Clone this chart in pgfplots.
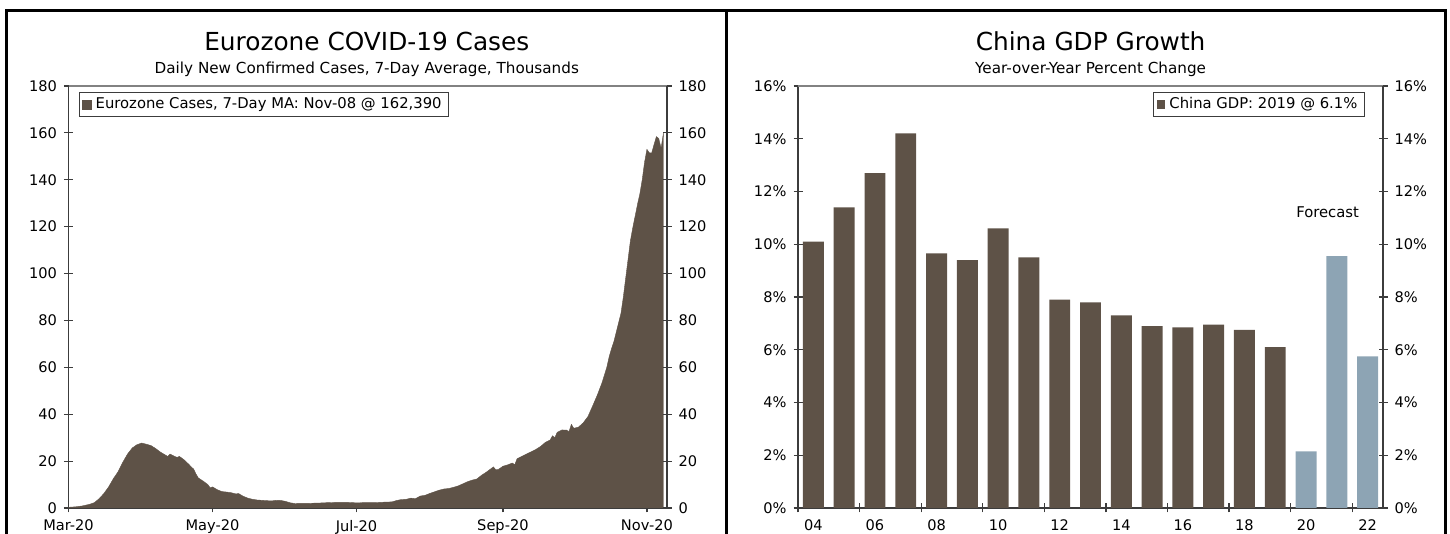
\documentclass[border=0pt]{standalone}
\usepackage{fontspec}
\setmainfont{DejaVu Sans}
\usepackage{pgfplots}
\pgfplotsset{compat=1.18}

\definecolor{covbrown}{RGB}{94,82,71}
\definecolor{fcblue}{RGB}{141,164,180}
\definecolor{axisdark}{RGB}{60,60,60}
\definecolor{axisgrey}{RGB}{130,130,130}

\pgfplotsset{
  panel/.style={
    scale only axis, anchor=south west, height=211pt,
    tick align=center, major tick length=4.5pt,
    tick style={axisdark, line width=0.6pt},
    axis line style={axisdark, line width=0.7pt},
    ticklabel style={font=\fontsize{7.3}{8}\selectfont},
    /pgf/number format/assume math mode=true,
    ymin=0,
  },
  boxlegend/.style={
    legend style={draw=axisdark, line width=0.5pt, font=\fontsize{7.4}{8.5}\selectfont,
      inner xsep=1.5pt, inner ysep=0.5pt, cells={anchor=west}},
    legend image code/.code={\fill[covbrown] (0pt,-2.2pt) rectangle (4.4pt,2.2pt);},
  },
}

\begin{document}
\begin{tikzpicture}
\useasboundingbox (0,0) rectangle (725pt,267pt);
\clip (0,0) rectangle (725pt,267pt);

% ---- left panel: Eurozone cases (x = days since Mar-01)
\begin{axis}[panel, at={(34.25pt,13pt)}, width=299.25pt,
    xmin=0, xmax=253.5, ymax=180,
    ytick={0,20,...,180},
    xtick={0,61,122,184,245},
    xticklabels={Mar-20,May-20,Jul-20,Sep-20,Nov-20},
    xticklabel style={yshift=-0.3pt},
    axis x line*=bottom, axis y line*=left,
    boxlegend,
    legend style={at={(0.0175,0.986)}, anchor=north west},
  ]
\addplot[fill=covbrown, draw=covbrown, line width=0.2pt] coordinates {
(0,0.3) (3,0.5) (6,0.9) (9,1.6) (11,2.3) (13,4.0) (15,6.2) (17,9.0) (19,12.5)
(21,15.5) (23,19.5) (25,23.0) (27,25.6) (29,27.0) (31,27.7) (33,27.2) (35,26.6)
(37,25.3) (39,23.8) (41,22.6) (42,22.0) (43,23.0) (45,22.0) (46,21.6) (47,22.0)
(49,20.5) (51,18.6) (52,17.5) (53,16.6) (54,14.5) (55,12.8) (57,11.5) (59,10.0)
(60,8.6) (61,9.0) (63,7.8) (65,7.0) (67,6.8) (69,6.5) (71,6.0) (72,6.2) (74,5.0)
(76,4.2) (78,3.7) (80,3.4) (83,3.2) (86,3.0) (88,3.3) (90,3.2) (92,2.8) (94,2.2)
(96,1.9) (98,2.0) (102,2.0) (106,2.1) (110,2.3) (114,2.4) (118,2.4) (122,2.2)
(126,2.3) (130,2.3) (134,2.5) (137,2.6) (139,3.2) (141,3.6) (143,3.7) (145,4.2)
(147,4.0) (149,5.1) (151,5.4) (153,6.2) (155,6.9) (157,7.6) (159,8.1) (161,8.3)
(163,8.8) (165,9.4) (167,10.3) (169,11.2) (171,11.9) (173,12.4) (175,14.0)
(177,15.3) (179,16.8) (180,17.5) (181,16.3) (182,16.4) (184,17.8) (186,18.4)
(188,19.2) (189,18.4) (190,21.0) (192,22.0) (194,23.0) (196,24.0) (198,25.0)
(200,26.3) (202,28.0) (204,29.0) (205,30.8) (206,30.0) (207,32.3) (209,33.3)
(211,33.2) (212,32.6) (213,35.7) (214,34.0) (216,34.5) (218,36.3) (220,39.0)
(222,43.5) (224,48.2) (226,53.5) (228,60.0) (229,64.5) (230,68.0) (231,71.0)
(232,75.0) (233,79.0) (234,83.0) (235,90.0) (236,98.0) (237,106.0) (238,114.0)
(239,119.5) (240,124.5) (241,129.5) (242,134.0) (243,140.0) (244,147.5) (245,153.0)
(246,151.5) (247,151.4) (248,155.0) (249,158.4) (250,157.6) (251,153.5) (252,160.0)
} \closedcycle;
\addlegendentry{Eurozone Cases, 7-Day MA:\ Nov-08 @ 162,390}
\end{axis}
\begin{axis}[panel, at={(34.25pt,13pt)}, width=299.25pt,
    xmin=0, xmax=253.5, ymax=180,
    ytick={0,20,...,180}, xtick=\empty,
    yticklabel pos=right,
    axis x line*=top, axis y line*=right,
    x axis line style={axisgrey},
  ]
\end{axis}

% ---- right panel: China GDP
\begin{axis}[panel, at={(399pt,13pt)}, width=292.5pt,
    xmin=2003.5, xmax=2022.5, ymax=16,
    ytick={0,2,...,16},
    yticklabel={\pgfmathprintnumber{\tick}\%},
    xtick={2003.5,2005.5,...,2021.5},
    xticklabels={04,06,08,10,12,14,16,18,20,22},
    xticklabel style={xshift=7.7pt, yshift=-0.3pt},
    axis x line*=bottom, axis y line*=left,
    boxlegend,
    legend style={at={(0.969,0.986)}, anchor=north east},
  ]
\addplot[ybar, bar width=0.68, bar shift=0pt, fill=covbrown, draw=none] coordinates {
(2004,10.1) (2005,11.4) (2006,12.7) (2007,14.2) (2008,9.65) (2009,9.4) (2010,10.6)
(2011,9.5) (2012,7.9) (2013,7.8) (2014,7.3) (2015,6.9) (2016,6.85) (2017,6.95)
(2018,6.75) (2019,6.1)
};
\addlegendentry{China GDP:\ 2019 @ 6.1\%}
\addplot[ybar, bar width=0.68, bar shift=0pt, fill=fcblue, draw=none, forget plot] coordinates {
(2020,2.15) (2021,9.55) (2022,5.75)
};
\node[font=\fontsize{7.4}{8.5}\selectfont] at (axis cs:2020.7,11.23) {Forecast};
\end{axis}
\begin{axis}[panel, at={(399pt,13pt)}, width=292.5pt,
    xmin=2003.5, xmax=2022.5, ymax=16,
    ytick={0,2,...,16},
    yticklabel={\pgfmathprintnumber{\tick}\%},
    xtick=\empty, yticklabel pos=right,
    axis x line*=top, axis y line*=right,
    x axis line style={axisgrey},
  ]
\end{axis}

% ---- titles
\node[anchor=base, font=\fontsize{12.4}{14}\selectfont] at (183.4pt,241.6pt) {Eurozone COVID-19 Cases};
\node[anchor=base, font=\fontsize{7.6}{9}\selectfont] at (183.4pt,230.3pt) {Daily New Confirmed Cases, 7-Day Average, Thousands};
\node[anchor=base, font=\fontsize{12.4}{14}\selectfont] at (545.3pt,241.6pt) {China GDP Growth};
\node[anchor=base, font=\fontsize{7.6}{9}\selectfont] at (545.3pt,230.3pt) {Year-over-Year Percent Change};

% ---- panel frame
\draw[line width=1.35pt] (3.25pt,-2pt) -- (3.25pt,261.75pt) -- (722.75pt,261.75pt) -- (722.75pt,-2pt);
\draw[line width=1.35pt] (363.3pt,-2pt) -- (363.3pt,261.75pt);
\end{tikzpicture}
\end{document}
